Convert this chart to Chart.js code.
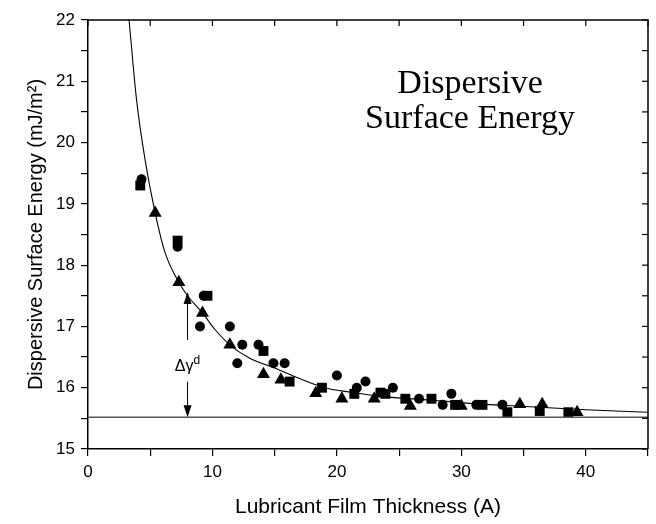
<!DOCTYPE html>
<html>
<head>
<meta charset="utf-8">
<script src="https://cdn.jsdelivr.net/npm/chart.js@4"></script>
<style>
  html, body { margin: 0; padding: 0; background: #fff; }
  #wrap { width: 656px; height: 524px; position: relative; }
</style>
</head>
<body>
<div id="wrap"><canvas id="chart"></canvas></div>
<script>
// ---- data ----
var circleX = [4.3, 7.2, 9.0, 9.3, 11.4, 12.0, 12.4, 13.7, 14.9, 15.8, 20.0, 21.6, 22.3, 24.5, 26.6, 28.5, 29.2, 31.2, 33.3];
var circleY = [19.4, 18.3, 17.0, 17.5, 17.0, 16.4, 16.7, 16.7, 16.4, 16.4, 16.2, 16.0, 16.1, 16.0, 15.82, 15.72, 15.9, 15.72, 15.72];

var squareX = [4.2, 7.2, 9.6, 14.1, 16.2, 18.8, 21.4, 23.5, 23.9, 25.5, 27.6, 29.5, 31.7, 33.7, 36.3, 38.6];
var squareY = [19.3, 18.4, 17.5, 16.6, 16.1, 16.0, 15.9, 15.92, 15.9, 15.82, 15.82, 15.72, 15.72, 15.6, 15.62, 15.6];

var triangleX = [5.4, 7.3, 9.2, 11.4, 14.1, 15.5, 18.3, 20.4, 23.0, 25.9, 30.0, 34.7, 36.5, 39.3];
var triangleY = [18.85, 17.72, 17.22, 16.7, 16.22, 16.13, 15.91, 15.82, 15.82, 15.7, 15.7, 15.73, 15.73, 15.6];

// fitted curve
var fitX = [3.3, 3.9, 4.6, 5.4, 6.2, 7.3, 8.0, 9.2, 10.2, 11.4, 13.0, 15.0, 17.0, 19.0, 21.0, 24.0, 27.5, 31.0, 35.5, 40.0, 45.0];
var fitY = [22.0, 20.7, 19.7, 18.85, 18.2, 17.72, 17.5, 17.22, 16.95, 16.7, 16.48, 16.32, 16.15, 16.0, 15.93, 15.85, 15.8, 15.74, 15.69, 15.64, 15.6];

// bulk (thick film) limit
var baseX = [0, 45];
var baseY = [15.52, 15.52];

var xTicks = [0, 10, 20, 30, 40];
var yTicks = [15, 16, 17, 18, 19, 20, 21, 22];

function pts(xs, ys) {
  return xs.map(function(x, i) { return { x: x, y: ys[i] }; });
}

// inward ticks on top and right edges, plus frame
var framePlugin = {
  id: 'frame',
  afterDatasetsDraw: function(chart) {
    var ctx = chart.ctx, a = chart.chartArea;
    var xs = chart.scales.x, ys = chart.scales.y;
    ctx.save();
    ctx.strokeStyle = '#000';
    ctx.lineWidth = 1.5;
    ctx.beginPath();
    ctx.moveTo(a.left, a.top); ctx.lineTo(a.right, a.top); ctx.lineTo(a.right, a.bottom);
    ctx.stroke();
    ctx.lineWidth = 1.2;
    xs.ticks.forEach(function(t) {
      var px = xs.getPixelForValue(t.value);
      ctx.beginPath(); ctx.moveTo(px, a.top); ctx.lineTo(px, a.top + 6); ctx.stroke();
    });
    ys.ticks.forEach(function(t) {
      var py = ys.getPixelForValue(t.value);
      ctx.beginPath(); ctx.moveTo(a.right, py); ctx.lineTo(a.right - 6, py); ctx.stroke();
    });
    ctx.restore();
  }
};

// delta gamma arrow + inset title
var notePlugin = {
  id: 'notes',
  afterDatasetsDraw: function(chart) {
    var ctx = chart.ctx;
    var xs = chart.scales.x, ys = chart.scales.y;
    var ax = xs.getPixelForValue(8);
    ctx.save();
    ctx.strokeStyle = '#000';
    ctx.fillStyle = '#000';
    ctx.lineWidth = 1;

    function arrow(y0, y1) {
      var p0 = ys.getPixelForValue(y0), p1 = ys.getPixelForValue(y1);
      var dir = p1 > p0 ? 1 : -1;
      ctx.beginPath(); ctx.moveTo(ax, p0); ctx.lineTo(ax, p1 - dir * 8); ctx.stroke();
      ctx.beginPath();
      ctx.moveTo(ax, p1);
      ctx.lineTo(ax - 4, p1 - dir * 12);
      ctx.lineTo(ax + 4, p1 - dir * 12);
      ctx.closePath(); ctx.fill();
    }
    arrow(16.78, 17.56);
    arrow(16.1, 15.52);

    var ty = ys.getPixelForValue(16.37);
    ctx.font = '16px "Liberation Sans", Arial, sans-serif';
    ctx.textBaseline = 'middle';
    ctx.textAlign = 'left';
    var w1 = ctx.measureText('\u0394\u03b3').width;
    ctx.font = '12px "Liberation Sans", Arial, sans-serif';
    var w2 = ctx.measureText('d').width;
    var left = ax - (w1 + w2) / 2;
    ctx.font = '16px "Liberation Sans", Arial, sans-serif';
    ctx.fillText('\u0394\u03b3', left, ty + 2);
    ctx.font = '12px "Liberation Sans", Arial, sans-serif';
    ctx.fillText('d', left + w1, ty - 4);

    ctx.font = '34px "Liberation Serif", "Times New Roman", serif';
    ctx.textAlign = 'center';
    ctx.textBaseline = 'alphabetic';
    var tx = xs.getPixelForValue(30.7);
    ctx.fillText('Dispersive', tx, ys.getPixelForValue(20.81));
    ctx.fillText('Surface Energy', tx, ys.getPixelForValue(20.24));
    ctx.restore();
  }
};

var sans = '"Liberation Sans", Arial, sans-serif';

new Chart(document.getElementById('chart').getContext('2d'), {
  type: 'scatter',
  data: {
    datasets: [
      {
        label: 'fit',
        data: pts(fitX, fitY),
        showLine: true,
        borderColor: '#000',
        borderWidth: 1.1,
        pointRadius: 0,
        cubicInterpolationMode: 'monotone',
        fill: false
      },
      {
        label: 'bulk',
        data: pts(baseX, baseY),
        showLine: true,
        borderColor: '#555',
        borderWidth: 1.5,
        pointRadius: 0,
        fill: false
      },
      {
        label: 'circles',
        data: pts(circleX, circleY),
        pointStyle: 'circle',
        pointRadius: 5,
        backgroundColor: '#000',
        borderColor: '#000',
        borderWidth: 0
      },
      {
        label: 'squares',
        data: pts(squareX, squareY),
        pointStyle: 'rect',
        pointRadius: 7,
        backgroundColor: '#000',
        borderColor: '#000',
        borderWidth: 0
      },
      {
        label: 'triangles',
        data: pts(triangleX, triangleY),
        pointStyle: 'triangle',
        pointRadius: 7.5,
        backgroundColor: '#000',
        borderColor: '#000',
        borderWidth: 0
      }
    ]
  },
  options: {
    responsive: true,
    maintainAspectRatio: false,
    animation: false,
    events: [],
    layout: { padding: { left: 24, right: 8, top: 20, bottom: 0 } },
    plugins: {
      legend: { display: false },
      tooltip: { enabled: false }
    },
    scales: {
      x: {
        type: 'linear',
        min: 0,
        max: 45,
        afterFit: function(s) { s.height = 75; },
        ticks: {
          stepSize: 5,
          autoSkip: false,
          maxRotation: 0,
          padding: 6,
          color: '#000',
          font: { family: sans, size: 17 },
          callback: function(v) { return xTicks.indexOf(v) >= 0 ? String(v) : ''; }
        },
        grid: { drawOnChartArea: false, drawTicks: true, tickLength: 7, color: '#000', lineWidth: 1.2 },
        border: { display: true, color: '#000', width: 1.5 },
        title: {
          display: true,
          text: 'Lubricant Film Thickness (A)',
          color: '#000',
          font: { family: sans, size: 21 },
          padding: { top: 4, bottom: 4 }
        }
      },
      y: {
        type: 'linear',
        min: 15,
        max: 22,
        afterFit: function(s) { s.width = 64; },
        ticks: {
          stepSize: 0.5,
          autoSkip: false,
          padding: 6,
          color: '#000',
          font: { family: sans, size: 17 },
          callback: function(v) { return yTicks.indexOf(v) >= 0 ? String(v) : ''; }
        },
        grid: { drawOnChartArea: false, drawTicks: true, tickLength: 7, color: '#000', lineWidth: 1.2 },
        border: { display: true, color: '#000', width: 1.5 },
        title: {
          display: true,
          text: 'Dispersive Surface Energy (mJ/m\u00b2)',
          color: '#000',
          font: { family: sans, size: 20 },
          padding: { top: 0, bottom: 4 }
        }
      }
    }
  },
  plugins: [framePlugin, notePlugin]
});
</script>
</body>
</html>
